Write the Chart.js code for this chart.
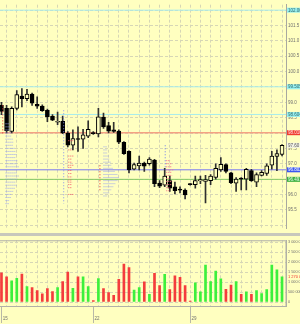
<!DOCTYPE html>
<html>
<head>
<meta charset="utf-8">
<script src="https://cdn.jsdelivr.net/npm/chart.js@4.4.1/dist/chart.umd.min.js"></script>
<style>
  html, body { margin: 0; padding: 0; background: #ffffc0; }
  #wrap { width: 300px; height: 324px; overflow: hidden; }
  #sep { height: 3px; background: #c8c8bc; }
  canvas { display: block; }
</style>
</head>
<body>
<div id="wrap">
  <canvas id="price" width="300" height="233"></canvas>
  <div id="sep"></div>
  <canvas id="volume" width="300" height="88"></canvas>
</div>
<script>
// candles, one per bar
const opens  = [98.9, 98.8, 98.05, 98.8, 99.2, 99.12, 99.27, 98.93, 98.88, 98.74, 98.55, 98.35, 98.38, 98.0, 97.6, 97.82, 97.8, 97.9, 98.0, 97.97, 98.52, 98.24, 98.1, 98.06, 97.7, 97.4, 96.82, 96.93, 97.02, 97.0, 97.12, 96.37, 96.3, 96.45, 96.25, 96.17, 96.14, 96.33, 96.32, 96.44, 96.42, 96.45, 96.55, 96.8, 96.97, 96.7, 96.37, 96.52, 96.5, 96.78, 96.4, 96.62, 96.68, 96.95, 97.24, 97.3]
const highs  = [99.0, 98.9, 98.85, 99.38, 99.45, 99.42, 99.3, 99.18, 98.92, 98.78, 98.6, 98.68, 98.55, 98.05, 98.1, 98.2, 98.12, 98.4, 98.05, 98.8, 98.65, 98.35, 98.35, 98.1, 97.72, 97.42, 97.02, 97.25, 97.05, 97.2, 97.14, 96.45, 96.85, 96.6, 96.4, 96.25, 96.18, 96.35, 96.6, 96.6, 96.62, 96.65, 97.0, 97.2, 97.0, 96.72, 96.55, 96.55, 96.85, 96.82, 96.7, 96.78, 97.0, 97.4, 97.45, 97.62]
const lows   = [98.6, 98.0, 98.0, 98.75, 98.85, 99.05, 98.9, 98.8, 98.7, 98.37, 98.4, 98.27, 97.98, 97.55, 97.45, 97.4, 97.5, 97.85, 97.95, 97.87, 98.15, 98.0, 98.02, 97.65, 97.3, 96.7, 96.8, 96.8, 96.75, 96.95, 96.25, 96.22, 96.25, 96.1, 96.02, 96.05, 95.85, 96.3, 96.2, 96.35, 95.72, 96.32, 96.5, 96.75, 96.7, 96.35, 96.1, 96.15, 96.15, 96.42, 96.25, 96.6, 96.62, 96.82, 96.77, 97.25]
const closes = [98.7, 98.08, 98.8, 99.25, 99.12, 99.27, 98.97, 98.87, 98.73, 98.52, 98.42, 98.38, 98.0, 97.6, 97.82, 97.79, 97.94, 98.12, 97.98, 98.53, 98.2, 98.06, 98.05, 97.7, 97.33, 96.8, 96.97, 97.02, 96.92, 97.15, 96.35, 96.27, 96.6, 96.2, 96.12, 96.14, 95.98, 96.32, 96.45, 96.48, 96.48, 96.6, 96.85, 96.98, 96.75, 96.38, 96.5, 96.5, 96.82, 96.45, 96.65, 96.72, 96.93, 97.25, 97.33, 97.6]
const volumes = [1470000, 1270000, 1060000, 1190000, 1400000, 770000, 720000, 570000, 410000, 670000, 520000, 720000, 1030000, 1500000, 690000, 1260000, 1260000, 770000, 70000, 1180000, 670000, 470000, 330000, 1140000, 1910000, 1730000, 600000, 720000, 1010000, 380000, 1440000, 820000, 1390000, 620000, 1310000, 1240000, 820000, 50000, 960000, 510000, 1850000, 1030000, 1550000, 1160000, 640000, 850000, 1030000, 380000, 510000, 380000, 570000, 420000, 620000, 1850000, 1620000, 1270000]

// day separators on the time axis
const dayTickIndex = [0, 18, 37]
const dayTickText = ["15", "22", "29"]

// price axis
const priceGrid = [95.0, 95.5, 96.0, 96.5, 97.0, 97.5, 98.0, 98.5, 99.0, 99.5, 100.0, 100.5, 101.0, 101.5, 102.0]
const priceLabels = [95.5, 96.0, 97.0, 97.5, 98.5, 99.0, 100.0, 100.5, 101.0, 101.5]
const volumeTicks = [0, 500000, 1000000, 1500000, 2000000, 2500000, 3000000]

// horizontal levels with their boxes on the price axis
const levelValues = [102.0, 99.505, 98.604, 98.01, 96.802, 96.491]
const levelText = ["102.000", "99.505", "98.604", "98.010", "96.802", "96.491"]

// volume profiles (price rows and their length in bars)
const profileAPrices = [98.3, 98.2, 98.1, 98.0, 97.9, 97.8, 97.7, 97.6, 97.5, 97.4, 97.3, 97.2, 97.1, 97.0, 96.9, 96.8, 96.7, 96.6, 96.5, 96.4, 96.3, 96.2, 96.1, 96.0, 95.9, 95.8, 95.7]
const profileAWidths = [0.8, 1.0, 1.0, 1.2, 1.2, 1.4, 1.6, 1.4, 1.8, 2.0, 2.2, 2.0, 2.4, 2.2, 2.6, 2.4, 2.2, 2.6, 2.4, 2.0, 2.2, 1.8, 1.6, 1.2, 1.0, 0.8, 0.6]
const profileBPrices = [97.75, 97.45, 97.25, 97.15, 97.05, 96.95, 96.88, 96.78, 96.68, 96.57, 96.47, 96.4, 96.32, 96.22, 96.0]
const profileBWidths = [1.0, 0.6, 1.0, 0.6, 0.8, 1.0, 0.6, 0.8, 0.6, 0.8, 0.6, 0.8, 0.6, 0.6, 1.0]
const profileCPrices = [97.55, 97.45, 97.35, 97.25, 97.15, 97.05, 96.95, 96.85, 96.75, 96.65, 96.55, 96.45, 96.35, 96.25, 96.15, 96.05, 95.95]
const profileCWidths = [0.6, 0.8, 0.8, 1.0, 1.2, 1.4, 1.6, 1.8, 2.2, 2.8, 3.0, 2.8, 2.4, 2.0, 1.6, 1.2, 0.8]
const profileDPrices = [97.1, 97.0, 96.9, 96.8, 96.72, 96.62, 96.52, 96.42, 96.32, 96.22, 96.12]
const profileDWidths = [0.8, 1.2, 1.0, 1.4, 1.0, 1.2, 0.8, 1.2, 1.0, 0.8, 0.6]

const YELLOW = "#ffffc0"
const GRID = "#d6d6b6"
const AXIS_TEXT = "#707070"
Chart.defaults.font.family = "Liberation Sans"

const isUp = opens.map((o, i) => closes[i] >= o)
const xRange = { min: -0.29, max: 55.78 }

const profiles = [
    { start: 0.8, prices: profileAPrices, widths: profileAWidths, color: "#97a2f0" },
    { start: 13.1, prices: profileBPrices, widths: profileBWidths, color: "#f25c6a" },
    { start: 20.0, prices: profileCPrices, widths: profileCWidths, color: "#97a2f0" },
    { start: 32.3, prices: profileDPrices, widths: profileDWidths, color: "#f57088" },
]
const spines = [
    { at: 0.25, from: 98.9, to: 97.95, color: "#e03030" },
    { at: 12.2, from: 98.74, to: 95.7, color: "#8490f0" },
    { at: 19.3, from: 96.95, to: 96.1, color: "#e03030" },
    { at: 32.1, from: 97.6, to: 96.8, color: "#6a7af0" },
]
const levelLine = ["#a8ecec", "#a8ecec", "#a8ecec", "#f4a282", "#7a7af2", "#86c862"]
const levelBox = ["#98f0f0", "#98f0f0", "#98f0f0", "#f03c30", "#3c58f0", "#3cb040"]
const levelInk = ["#306868", "#306868", "#306868", "#ffe0e0", "#ffffff", "#f0fff0"]

const fmtVol = (v) => String(v).replace(/\B(?=(\d{3})+(?!\d))/g, " ")

const xAxis = (withLabels) => ({
    type: "linear",
    min: xRange.min,
    max: xRange.max,
    offset: false,
    afterBuildTicks: (s) => {
        s.ticks = opens.map((o, i) => ({ value: i }))
    },
    afterFit: (s) => {
        s.height = withLabels ? 18 : 0
    },
    grid: {
        offset: false,
        color: (c) => (c.tick && c.tick.value % 2 === 1 ? GRID : "rgba(0,0,0,0)"),
        drawTicks: withLabels,
        tickLength: 17,
        tickColor: (c) => (c.tick && dayTickIndex.includes(c.tick.value) ? "#b8b8a8" : "rgba(0,0,0,0)"),
    },
    border: { display: withLabels, color: "#b0b0a4", dash: [3, 2] },
    ticks: {
        display: withLabels,
        autoSkip: false,
        maxRotation: 0,
        align: "start",
        padding: -7,
        color: AXIS_TEXT,
        font: { size: 4.5 },
        callback: (v) => {
            const k = dayTickIndex.indexOf(v)
            return k >= 0 ? " " + dayTickText[k] : ""
        },
    },
})

const priceOverlay = {
    id: "priceOverlay",
    beforeDatasetsDraw(chart) {
        const { ctx, chartArea: a, scales } = chart
        ctx.save()
        levelValues.forEach((v, k) => {
            const py = scales.y.getPixelForValue(v)
            ctx.strokeStyle = levelLine[k]
            ctx.lineWidth = k === 3 ? 1.5 : 1
            ctx.beginPath()
            ctx.moveTo(a.left, py)
            ctx.lineTo(a.right, py)
            ctx.stroke()
        })
        ctx.restore()
    },
    afterDatasetsDraw(chart) {
        const { ctx, scales } = chart
        ctx.save()
        ctx.lineWidth = 1
        ctx.setLineDash([1, 1])
        profiles.forEach((p) => {
            ctx.strokeStyle = p.color
            p.prices.forEach((price, r) => {
                const py = scales.y.getPixelForValue(price)
                ctx.beginPath()
                ctx.moveTo(scales.x.getPixelForValue(p.start), py)
                ctx.lineTo(scales.x.getPixelForValue(p.start + p.widths[r]), py)
                ctx.stroke()
            })
        })
        ctx.setLineDash([1, 2])
        spines.forEach((s) => {
            const px = scales.x.getPixelForValue(s.at)
            ctx.strokeStyle = s.color
            ctx.beginPath()
            ctx.moveTo(px, scales.y.getPixelForValue(s.from))
            ctx.lineTo(px, scales.y.getPixelForValue(s.to))
            ctx.stroke()
        })
        ctx.restore()
    },
    afterDraw(chart) {
        const { ctx, chartArea: a, scales } = chart
        ctx.save()
        ctx.font = "4.5px Liberation Sans"
        ctx.textBaseline = "middle"
        const boxes = levelValues.map((v, k) => ({ v, text: levelText[k], bg: levelBox[k], ink: levelInk[k] }))
        const last = closes[closes.length - 1]
        boxes.push({ v: last, text: last.toFixed(2), bg: "#f4f4e8", ink: "#505050" })
        boxes.forEach((b) => {
            const py = scales.y.getPixelForValue(b.v)
            ctx.fillStyle = b.bg
            ctx.fillRect(a.right + 1, py - 2.5, 300 - a.right, 5)
            ctx.fillStyle = b.ink
            ctx.fillText(b.text, a.right + 2, py + 0.3)
        })
        ctx.restore()
    },
}

new Chart(document.getElementById("price"), {
    type: "bar",
    data: {
        datasets: [
            {
                // candle bodies
                data: opens.map((o, i) => ({ x: i, y: [o, closes[i]] })),
                backgroundColor: isUp.map((u) => (u ? YELLOW : "#000000")),
                borderColor: "#000000",
                borderWidth: 1,
                borderSkipped: false,
                barThickness: 4,
                minBarLength: 1,
                grouped: false,
                order: 0,
            },
            {
                // wicks
                data: highs.map((h, i) => ({ x: i, y: [lows[i], h] })),
                backgroundColor: "#303030",
                barThickness: 1,
                grouped: false,
                order: 1,
            },
        ],
    },
    options: {
        responsive: false,
        animation: false,
        events: [],
        layout: { padding: 0 },
        plugins: { legend: { display: false }, tooltip: { enabled: false } },
        scales: {
            x: xAxis(false),
            y: {
                type: "linear",
                position: "right",
                min: 94.897,
                max: 102.178,
                afterBuildTicks: (s) => {
                    s.ticks = priceGrid.map((v) => ({ value: v }))
                },
                afterFit: (s) => {
                    s.width = 14
                },
                grid: { color: GRID, drawTicks: false },
                border: { display: true, color: "#a8a8a0", dash: [3, 2] },
                ticks: {
                    padding: 2,
                    color: AXIS_TEXT,
                    font: { size: 4.5 },
                    callback: (v) => (priceLabels.includes(v) ? v.toFixed(1) : ""),
                },
            },
        },
    },
    plugins: [priceOverlay],
})

const volumeOverlay = {
    id: "volumeOverlay",
    afterDraw(chart) {
        const { ctx, chartArea: a, scales } = chart
        ctx.save()
        ctx.strokeStyle = "#b0b0a8"
        ctx.lineWidth = 1
        ctx.strokeRect(a.left - 0.5, a.top + 0.5, a.right - a.left + 0.5, a.bottom - a.top)
        const lastVol = volumes[volumes.length - 1]
        ctx.font = "4px Liberation Sans"
        ctx.textBaseline = "middle"
        ctx.fillStyle = YELLOW
        ctx.fillRect(a.right + 1, scales.y.getPixelForValue(lastVol) - 2, 300 - a.right, 4)
        ctx.fillStyle = "#f03030"
        ctx.fillText(fmtVol(lastVol), a.right + 2, scales.y.getPixelForValue(lastVol))
        ctx.restore()
    },
}

new Chart(document.getElementById("volume"), {
    type: "bar",
    data: {
        datasets: [
            {
                data: volumes.map((v, i) => ({ x: i, y: v })),
                backgroundColor: isUp.map((u) => (u ? "#3cf03c" : "#f43c3c")),
                barThickness: 2,
                grouped: false,
            },
        ],
    },
    options: {
        responsive: false,
        animation: false,
        events: [],
        layout: { padding: { top: 2 } },
        plugins: { legend: { display: false }, tooltip: { enabled: false } },
        scales: {
            x: xAxis(true),
            y: {
                type: "linear",
                position: "right",
                min: -200000,
                max: 3100000,
                afterBuildTicks: (s) => {
                    s.ticks = volumeTicks.map((v) => ({ value: v }))
                },
                afterFit: (s) => {
                    s.width = 14
                },
                grid: { color: GRID, drawTicks: false },
                border: { display: true, color: "#b0b0a4", dash: [3, 2] },
                ticks: {
                    padding: 2,
                    color: AXIS_TEXT,
                    font: { size: 3.8 },
                    callback: (v) => fmtVol(v),
                },
            },
        },
    },
    plugins: [volumeOverlay],
})
</script>
</body>
</html>
